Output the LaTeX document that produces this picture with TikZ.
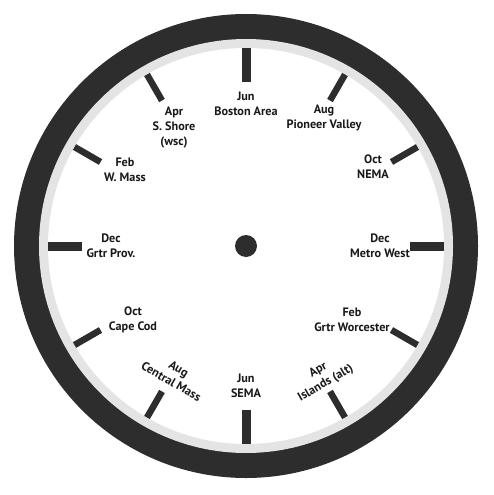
\documentclass[tikz,border=0pt]{standalone}
\usepackage{fontspec}
\setmainfont{PT Sans}
\usepackage{tikz}
\definecolor{rimD}{RGB}{45,45,45}
\definecolor{rimL}{RGB}{228,228,228}
\definecolor{ink}{RGB}{25,25,25}

\begin{document}
\begin{tikzpicture}[x=1pt, y=-1pt,
  lbl/.style={align=center, font=\fontsize{12.2}{15}\selectfont\bfseries,
              text=ink, inner sep=0pt},
  majtick/.style={line width=9pt, draw=rimD},
  mintick/.style={line width=6.5pt, draw=rimD}]
  \useasboundingbox (0,0) rectangle (494,495);
  \coordinate (c) at (246,246);
  \fill[rimD] (c) circle (232pt);
  \fill[rimL] (c) circle (207pt);
  \fill[white] (c) circle (198pt);
  \fill[rimD] (c) circle (11pt);
  \foreach \a in {0,90,180,270}
    \draw[majtick, shift={(c)}] (\a:164) -- (\a:198);
  \foreach \a in {30,60,120,150,210,240,300,330}
    \draw[mintick, shift={(c)}] (\a:168) -- (\a:198);
  \node[lbl] (jun1) at (246,104) {Jun\\Boston Area};
  \node[lbl] (aug1) at (324,118) {Aug\\Pioneer Valley};
  \node[lbl] (oct1) at (373,167) {Oct\\NEMA};
  \node[lbl] (dec1) at (380,246) {Dec\\Metro West};
  \node[lbl] (feb1) at (352,320) {Feb\\Grtr Worcester};
  \node[lbl, rotate=30] (apr1) at (322,377) {Apr\\Islands (alt)};
  \node[lbl] (jun2) at (246,386) {Jun\\SEMA};
  \node[lbl, rotate=-30] (aug2) at (175,375) {Aug\\Central Mass};
  \node[lbl] (oct2) at (133,320) {Oct\\Cape Cod};
  \node[lbl] (dec2) at (111,246) {Dec\\Grtr Prov.};
  \node[lbl] (feb2) at (125,170) {Feb\\W. Mass};
  \node[lbl] (apr2) at (174,128) {Apr\\S. Shore\\(wsc)};
\end{tikzpicture}
\end{document}
